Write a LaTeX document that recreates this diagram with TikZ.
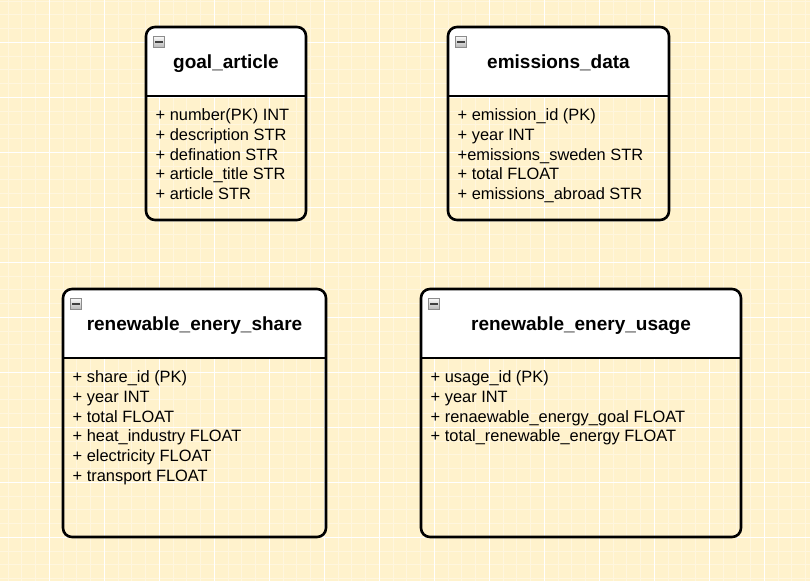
\documentclass[tikz,border=0pt]{standalone}
\usepackage{fontspec}
\setmainfont{Liberation Sans}
\usetikzlibrary{calc}
\definecolor{bgcream}{RGB}{255,242,204}
\definecolor{minorline}{RGB}{255,246,222}
\definecolor{iconfill}{RGB}{214,214,214}
\definecolor{iconborder}{RGB}{140,140,140}
\tikzset{
  erframe/.style={draw=black, line width=2.6pt, rounded corners=9pt, inner sep=0pt, outer sep=0pt, anchor=north west},
  erdivider/.style={draw=black, line width=2.6pt},
  ertitle/.style={font=\fontsize{19}{22}\selectfont\bfseries, anchor=base, inner sep=0pt},
  eritem/.style={font=\fontsize{16.4}{19.7}\selectfont, anchor=base west, inner sep=0pt},
  ericon/.style={draw=iconborder, line width=0.8pt, top color=white!85!iconfill, bottom color=iconfill!85!black, minimum width=11.5pt, minimum height=11pt, inner sep=0pt, outer sep=0pt, anchor=north west},
  majorgrid/.style={draw=white, line width=1.3pt},
  minorgrid/.style={draw=minorline, line width=0.8pt}
}
% #1 name, #2 left, #3 top, #4 right, #5 divider y, #6 bottom, #7 title, #8 items
\newcommand{\ertable}[8]{%
  \begin{scope}
    \clip (#2,#3) rectangle (#4,#5);
    \fill[white, rounded corners=9pt] (#2,#3) rectangle (#4,#6);
  \end{scope}
  \node[erframe, minimum width={#4pt-#2pt}, minimum height={#6pt-#3pt}] (#1) at (#2,#3) {};
  \draw[erdivider] (#1.west |- 0,#5) -- (#1.east |- 0,#5);
  \node[ericon] (#1-icon) at ({#2+7},{#3+9.5}) {};
  \draw[line width=1.4pt, black!75] ($(#1-icon.west)+(2,0)$) -- ($(#1-icon.east)+(-2,0)$);
  \node[ertitle] (#1-title) at ({(#2+#4)/2},{#3+41.5}) {#7};
  \foreach \txt [count=\k from 0] in {#8} {
    \node[eritem] (#1-item\k) at ({#2+9.5},{#5+24.8+19.7*\k}) {\txt};
  }
}
\begin{document}
\begin{tikzpicture}[x=1pt,y=-1pt]
\useasboundingbox (0,0) rectangle (810,581);
\fill[bgcream] (0,0) rectangle (810,581);
% minor grid
\foreach \i in {0,...,60} {
  \draw[minorgrid] ({-5.7+13.75*\i},0) -- ({-5.7+13.75*\i},581);
}
\foreach \i in {0,...,44} {
  \draw[minorgrid] (0,{-12.7+13.75*\i}) -- (810,{-12.7+13.75*\i});
}
% major grid
\foreach \i in {0,...,15} {
  \draw[majorgrid] ({-5.7+55*\i},0) -- ({-5.7+55*\i},581);
}
\foreach \i in {0,...,11} {
  \draw[majorgrid] (0,{-12.7+55*\i}) -- (810,{-12.7+55*\i});
}
\ertable{goal}{146}{27}{306}{96}{220}{goal\_article}{%
  {+ number(PK) INT},{+ description STR},{+ defination STR},{+ article\_title STR},{+ article STR}}
\ertable{emis}{448}{27}{669}{96}{220}{emissions\_data}{%
  {+ emission\_id (PK)},{+ year INT},{+emissions\_sweden STR},{+ total FLOAT},{+ emissions\_abroad STR}}
\ertable{share}{63}{289}{326}{358}{537}{renewable\_enery\_share}{%
  {+ share\_id (PK)},{+ year INT},{+ total FLOAT},{+ heat\_industry FLOAT},{+ electricity FLOAT},{+ transport FLOAT}}
\ertable{usage}{421}{289}{741}{358}{537}{renewable\_enery\_usage}{%
  {+ usage\_id (PK)},{+ year INT},{+ renaewable\_energy\_goal FLOAT},{+ total\_renewable\_energy FLOAT}}
\end{tikzpicture}
\end{document}
